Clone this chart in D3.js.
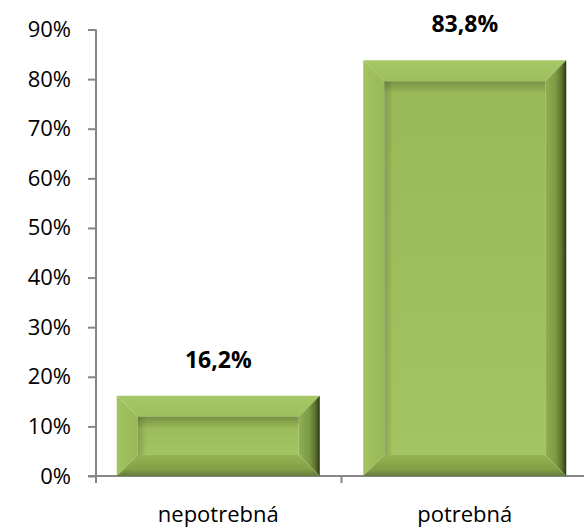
<!DOCTYPE html>
<html>
<head>
<meta charset="utf-8">
<script src="https://cdn.jsdelivr.net/npm/d3@7/dist/d3.min.js"></script>
<style>
  html, body { margin: 0; padding: 0; background: #fff; }
  svg { display: block; }
  text { font-family: "Open Sans", "Noto Sans", sans-serif; fill: #000; }
</style>
</head>
<body>
<svg id="chart" width="584" height="529"></svg>
<script>
// ---- data ----
const categories = ["nepotrebná", "potrebná"];
const values = [0.162, 0.838];
const valueLabels = ["16,2%", "83,8%"];
const yTickValues = [0, 0.1, 0.2, 0.3, 0.4, 0.5, 0.6, 0.7, 0.8, 0.9];
const yTickLabels = ["0%", "10%", "20%", "30%", "40%", "50%", "60%", "70%", "80%", "90%"];

// ---- layout ----
const W = 584, H = 529;
const svg = d3.select("#chart");
const axisColor = "#868686";

const x = d3.scaleBand()
  .domain(categories)
  .range([95, 588])
  .paddingInner(0.1765)
  .paddingOuter(0.1765 / 2);

const y = d3.scaleLinear().domain([0, 0.9]).range([476, 29.5]);

// ---- gradients ----
const defs = svg.append("defs");
function grad(id, x2, y2, stops) {
  const g = defs.append("linearGradient").attr("id", id)
    .attr("x1", 0).attr("y1", 0).attr("x2", x2).attr("y2", y2);
  stops.forEach(s => g.append("stop").attr("offset", s[0]).attr("stop-color", s[1]).attr("stop-opacity", s[2] === undefined ? 1 : s[2]));
}
grad("gTop", 0, 1, [[0, "#a6c767"], [1, "#9ebf5c"]]);
grad("gLeft", 1, 0, [[0, "#a2c360"], [1, "#98b957"]]);
grad("gRight", 1, 0, [[0, "#90b051"], [0.5, "#7c9a44"], [0.8, "#5a702f"], [1, "#2a3512"]]);
grad("gBottom", 0, 1, [[0, "#94b553"], [0.7, "#819f45"], [1, "#63793a"]]);
grad("gFace", 0, 1, [[0, "#98b957"], [1, "#a3c462"]]);
grad("gShadowTop", 0, 1, [[0, "#000", 0.22], [1, "#000", 0]]);
grad("gShadowLeft", 1, 0, [[0, "#000", 0.16], [1, "#000", 0]]);

// ---- axes ----
const yAxis = d3.axisLeft(y)
  .tickValues(yTickValues)
  .tickSize(8)
  .tickPadding(17)
  .tickFormat((d, i) => yTickLabels[i]);

const gy = svg.append("g").attr("transform", "translate(96,0)").call(yAxis);
gy.select(".domain").remove();
gy.selectAll(".tick line").attr("stroke", axisColor).attr("stroke-width", 2);
gy.selectAll(".tick text").style("font-size", "22px").attr("fill", "#000");
gy.append("line")
  .attr("x1", 0).attr("x2", 0)
  .attr("y1", y(0.9)).attr("y2", y(0) + 7)
  .attr("stroke", axisColor).attr("stroke-width", 2);

const xAxis = d3.axisBottom(x).tickSize(0).tickPadding(30);
const gx = svg.append("g").attr("transform", `translate(0,${y(0)})`).call(xAxis);
gx.select(".domain").remove();
gx.selectAll(".tick text").style("font-size", "22px").attr("fill", "#000");
gx.append("line")
  .attr("x1", 88).attr("x2", W)
  .attr("y1", 0).attr("y2", 0)
  .attr("stroke", axisColor).attr("stroke-width", 2);
// category boundary ticks
const boundaries = categories.map((c, i) => x(c) + x.bandwidth() + x.step() * x.paddingInner() / 2);
gx.selectAll(".bound").data(boundaries).enter().append("line")
  .attr("x1", d => d).attr("x2", d => d)
  .attr("y1", 0).attr("y2", 7)
  .attr("stroke", axisColor).attr("stroke-width", 2);

// ---- bevelled bars ----
const bars = svg.append("g");
categories.forEach((c, i) => {
  const x0 = x(c), x1 = x(c) + x.bandwidth();
  const y0 = y(values[i]), y1 = y(0);
  const b = Math.min(21, (y1 - y0) / 3);
  const g = bars.append("g");
  const poly = (pts, fill) => g.append("polygon")
    .attr("points", pts.map(p => p.join(",")).join(" ")).attr("fill", fill);
  poly([[x0, y0], [x1, y0], [x1 - b, y0 + b], [x0 + b, y0 + b]], "url(#gTop)");
  poly([[x0, y0], [x0 + b, y0 + b], [x0 + b, y1 - b], [x0, y1]], "url(#gLeft)");
  poly([[x1, y0], [x1, y1], [x1 - b, y1 - b], [x1 - b, y0 + b]], "url(#gRight)");
  poly([[x0, y1], [x0 + b, y1 - b], [x1 - b, y1 - b], [x1, y1]], "url(#gBottom)");
  // face
  g.append("rect").attr("x", x0 + b).attr("y", y0 + b)
    .attr("width", x1 - x0 - 2 * b).attr("height", y1 - y0 - 2 * b)
    .attr("fill", "url(#gFace)");
  g.append("rect").attr("x", x0 + b).attr("y", y0 + b)
    .attr("width", x1 - x0 - 2 * b).attr("height", Math.min(12, (y1 - y0 - 2 * b) / 2))
    .attr("fill", "url(#gShadowTop)");
  g.append("rect").attr("x", x0 + b).attr("y", y0 + b)
    .attr("width", 9).attr("height", y1 - y0 - 2 * b)
    .attr("fill", "url(#gShadowLeft)");
});

// ---- value labels ----
svg.append("g").selectAll("text").data(categories).enter().append("text")
  .attr("x", c => x(c) + x.bandwidth() / 2)
  .attr("y", (c, i) => y(values[i]) - 28)
  .attr("text-anchor", "middle")
  .style("font-size", "23px")
  .style("font-weight", "bold")
  .text((c, i) => valueLabels[i]);
</script>
</body>
</html>
